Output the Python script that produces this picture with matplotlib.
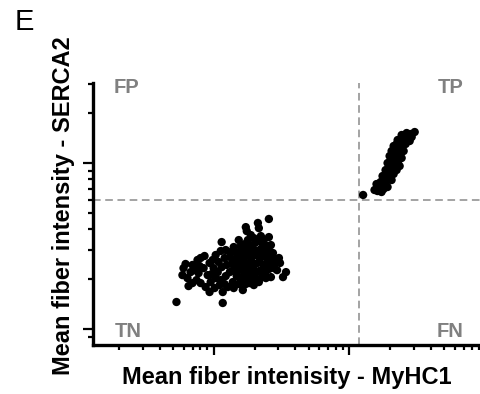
import numpy as np
import matplotlib
matplotlib.use("Agg")
import matplotlib.pyplot as plt
from matplotlib.ticker import LogLocator, NullFormatter

plt.rcParams['font.family'] = ['Liberation Sans', 'DejaVu Sans']

# log10 of mean fiber intensity
# TN cluster (MyHC1 negative)
tn_x = [2.726, 3.067, 3.407, 3.237, 3.244, 3.326, 3.333, 3.059, 3.407, 3.252, 3.296,
        2.778, 2.770, 2.807, 2.815, 2.793, 2.844, 2.881, 2.904, 2.933, 2.889, 2.904,
        2.941, 2.978, 2.859, 2.830, 2.926, 2.956, 2.874, 2.970,
        3.015, 3.052, 3.089, 3.126, 3.170, 2.993, 3.037, 3.081, 3.119, 3.156,
        3.000, 3.030, 3.059, 3.096, 3.133, 3.015, 3.052, 3.089, 3.119, 3.148,
        3.007, 3.044, 3.081, 3.104, 3.141, 3.170, 3.148, 3.185, 3.200, 2.985,
        3.200, 3.230, 3.267, 3.304, 3.333, 3.363, 3.393, 3.422,
        3.185, 3.222, 3.259, 3.289, 3.319, 3.348, 3.378, 3.407, 3.437,
        3.207, 3.237, 3.274, 3.304, 3.333, 3.363, 3.393, 3.422, 3.452,
        3.193, 3.222, 3.252, 3.281, 3.311, 3.341, 3.370, 3.400, 3.430, 3.459,
        3.200, 3.230, 3.259, 3.289, 3.319, 3.348, 3.378,
        3.222, 3.252, 3.281, 3.311, 3.237, 3.267, 3.296, 3.178, 3.170,
        3.481, 3.489, 3.533, 3.511, 3.422, 3.444, 3.467, 3.407, 3.356, 3.333, 3.385,
        3.148, 3.348, 3.274, 3.370, 2.844, 2.896, 3.067, 2.970, 3.215, 3.185]
tn_y = [3.163, 3.157, 3.663, 3.614, 3.590, 3.639, 3.608, 3.524, 3.554, 3.536, 3.548,
        3.367, 3.325, 3.307, 3.259, 3.392, 3.386, 3.416, 3.428, 3.440, 3.337, 3.277,
        3.253, 3.283, 3.355, 3.343, 3.367, 3.325, 3.295, 3.398,
        3.446, 3.470, 3.476, 3.464, 3.458, 3.416, 3.404, 3.428, 3.434, 3.422,
        3.367, 3.343, 3.373, 3.386, 3.392, 3.307, 3.295, 3.319, 3.343, 3.355,
        3.247, 3.265, 3.271, 3.253, 3.283, 3.319, 3.247, 3.271, 3.295, 3.331,
        3.500, 3.512, 3.500, 3.518, 3.530, 3.512, 3.500, 3.506,
        3.464, 3.476, 3.464, 3.482, 3.470, 3.482, 3.464, 3.476, 3.458,
        3.434, 3.440, 3.428, 3.446, 3.434, 3.440, 3.428, 3.434, 3.422,
        3.398, 3.404, 3.392, 3.404, 3.392, 3.404, 3.386, 3.398, 3.386, 3.404,
        3.361, 3.367, 3.349, 3.361, 3.343, 3.355, 3.337,
        3.325, 3.307, 3.319, 3.301, 3.271, 3.277, 3.265, 3.380, 3.343,
        3.428, 3.398, 3.343, 3.313, 3.313, 3.367, 3.355, 3.361, 3.313, 3.283, 3.307,
        3.494, 3.560, 3.566, 3.536, 3.277, 3.380, 3.223, 3.223, 3.235, 3.536]

# TP cluster (MyHC1 positive), raw intensity
tp_x = [12630, 15320, 16120, 17260, 16680, 15850, 16970, 17860, 18480, 19120,
        18170, 17560, 18800, 19790, 20470, 18480, 19450, 20130, 21190, 19120,
        20130, 20830, 21540, 22290, 19790, 20830, 21540, 22680, 23470, 20470,
        21540, 22290, 23470, 24280, 21190, 22290, 23070, 24280, 25120, 22680,
        23870, 24700, 25990, 24280, 25550, 26900, 27830, 26440, 28310, 30300,
        28790, 23070, 21920, 23870, 19120, 17860]
tp_y = [6420, 6880, 6780, 6690, 7270, 7470, 7680, 7370, 7580, 7170,
        8120, 8350, 8590, 8240, 7900, 9070, 9330, 8830, 8590, 10000,
        10280, 9730, 9330, 9070, 11020, 10870, 10430, 10000, 9590, 11810,
        11980, 11490, 11020, 10720, 12660, 13020, 12490, 12140, 11810, 13760,
        13950, 13380, 13020, 14750, 14540, 14150, 13570, 15160, 14950, 15370,
        14340, 10430, 11020, 11650, 7900, 6970]

x_threshold = 10 ** 4.074
y_threshold = 10 ** 3.777

fig = plt.figure(figsize=(4.81, 3.94), dpi=100)
ax = fig.add_axes([93 / 481, 1 - 345 / 394, 388 / 481, 262 / 394])

ax.axvline(x_threshold, color='#8a8a8a', lw=1.1, ls=(0, (5, 3)), zorder=1)
ax.axhline(y_threshold, color='#8a8a8a', lw=1.1, ls=(0, (5, 3)), zorder=1)

ax.scatter(np.power(10, tn_x), np.power(10, tn_y), s=36, c='black', edgecolors='none', zorder=3)
ax.scatter(tp_x, tp_y, s=36, c='black', edgecolors='none', zorder=3)

ax.set_xscale('log')
ax.set_yscale('log')
ax.set_xlim(10 ** 2.111, 10 ** 4.97)
ax.set_ylim(10 ** 2.904, 10 ** 4.482)

for a in (ax.xaxis, ax.yaxis):
    a.set_major_locator(LogLocator(base=10, numticks=10))
    a.set_minor_locator(LogLocator(base=10, subs=np.arange(2, 10), numticks=20))
    a.set_major_formatter(NullFormatter())
    a.set_minor_formatter(NullFormatter())

ax.tick_params(which='major', length=7, width=1.6, color='black', direction='out')
ax.tick_params(which='minor', length=3.5, width=1.6, color='black', direction='out')

for side in ['top', 'right']:
    ax.spines[side].set_visible(False)
for side in ['left', 'bottom']:
    ax.spines[side].set_linewidth(2.4)

q = dict(color='#808080', fontsize=14.5, fontweight='bold', transform=ax.transAxes, va='baseline')
ax.text(0.052, 0.962, 'FP', ha='left', **q)
ax.text(0.956, 0.962, 'TP', ha='right', **q)
ax.text(0.057, 0.031, 'TN', ha='left', **q)
ax.text(0.956, 0.031, 'FN', ha='right', **q)

fig.text(287 / 481, 1 - 384 / 394, 'Mean fiber intenisity - MyHC1', ha='center', va='baseline',
         fontsize=17, fontweight='bold')
fig.text(64 / 481, 1 - 206 / 394, 'Mean fiber intensity - SERCA2', ha='center', va='center',
         rotation=90, fontsize=17, fontweight='bold')
fig.text(15 / 481, 1 - 8 / 394, 'E', ha='left', va='top', fontsize=21)

fig.savefig('out.png', dpi=100)
